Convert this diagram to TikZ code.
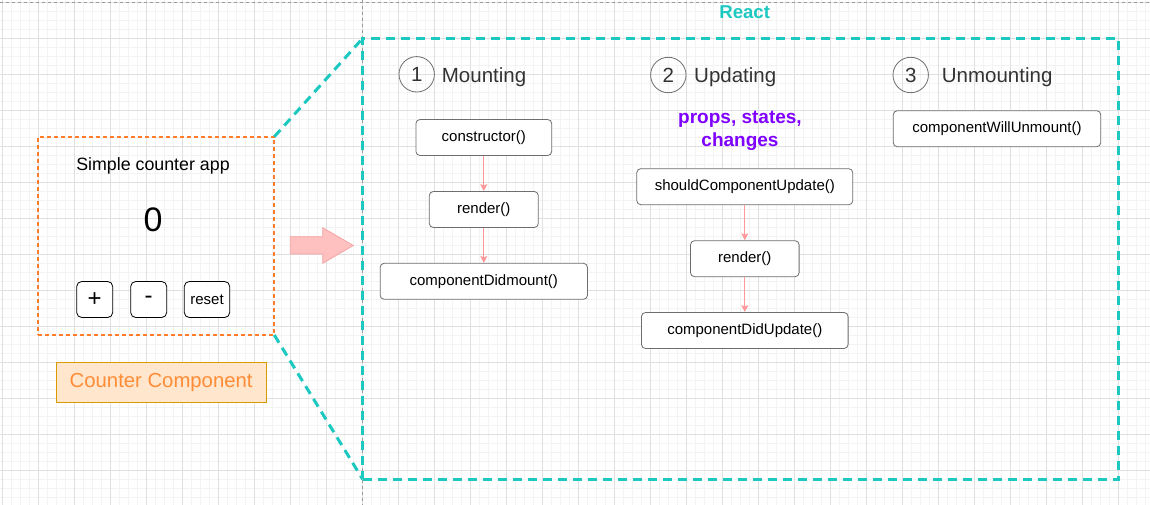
\documentclass[tikz,border=0pt]{standalone}
\usepackage{fontspec}
\setmainfont{Liberation Sans}
\usetikzlibrary{arrows.meta}
\definecolor{tealc}{RGB}{28,200,192}
\definecolor{orangec}{RGB}{255,125,40}
\definecolor{ccfill}{RGB}{255,230,204}
\definecolor{ccdraw}{RGB}{215,155,0}
\definecolor{cctext}{RGB}{255,140,55}
\definecolor{pinkfill}{RGB}{255,192,192}
\definecolor{pinkdraw}{RGB}{245,165,165}
\definecolor{flowc}{RGB}{255,153,153}
\definecolor{purplec}{RGB}{127,0,255}
\definecolor{headc}{RGB}{51,51,51}
\definecolor{boxc}{RGB}{110,110,110}
\definecolor{minorg}{RGB}{243,243,243}
\definecolor{majorg}{RGB}{224,224,224}
\begin{document}
\begin{tikzpicture}[x=1pt,y=-1pt,
  minorgrid/.style={draw=minorg,line width=0.6pt},
  majorgrid/.style={draw=majorg,line width=0.7pt},
  pagebreak/.style={draw=black!40,line width=0.6pt,dash pattern=on 3pt off 3pt},
  tealbox/.style={draw=tealc,line width=3pt,dash pattern=on 9pt off 6pt},
  method/.style={draw=boxc,line width=0.8pt,rounded corners=4pt,fill=white,inner sep=0pt,
    minimum height=36pt,font=\fontsize{15}{18}\selectfont},
  btn/.style={draw=black,line width=0.8pt,rounded corners=5pt,fill=white,inner sep=0pt,
    minimum height=36pt},
  numcircle/.style={circle,draw=boxc,line width=0.8pt,minimum size=35.4pt,inner sep=0pt,
    text=headc,font=\fontsize{20.5}{24}\selectfont},
  heading/.style={anchor=base west,inner sep=0pt,text=headc,font=\fontsize{20.5}{24}\selectfont},
  flow/.style={draw=flowc,line width=0.9pt,-{Stealth[length=7pt,width=7pt,inset=1.5pt]}}
]
\useasboundingbox (0,0) rectangle (1150,505);
\fill[white] (0,0) rectangle (1150,505);
% grid
\foreach \i in {0,...,127} \draw[minorgrid] ({2.7+9*\i},0) -- ++(0,505);
\foreach \i in {0,...,56} \draw[minorgrid] (0,{2.3+9*\i}) -- ++(1150,0);
\foreach \i in {0,...,31} \draw[majorgrid] ({2.7+36*\i},0) -- ++(0,505);
\foreach \i in {0,...,14} \draw[majorgrid] (0,{2.3+36*\i}) -- ++(1150,0);
% page break lines
\draw[pagebreak] (362.7,0) -- (362.7,505);
\draw[pagebreak] (0,2.3) -- (1150,2.3);

% React container
\node[tealbox,minimum width=755.6pt,minimum height=441pt,inner sep=0pt,outer sep=0pt] (react) at (740.5,258.8) {};
\node[anchor=base,inner sep=0pt,text=tealc,font=\bfseries\fontsize{18.6}{22}\selectfont] (reactlbl) at (744.7,18.3) {React};

% Counter app box
\node[draw=orangec,line width=2pt,dash pattern=on 4pt off 3pt,minimum width=236pt,minimum height=198.3pt,inner sep=0pt,outer sep=0pt] (app) at (156.3,235.85) {};
\draw[tealbox] (app.north east) -- (react.north west);
\draw[tealbox] (app.south east) -- (react.south west);
\node[anchor=base,inner sep=0pt,font=\fontsize{17.8}{21}\selectfont] (apptitle) at (153,171) {Simple counter app};
\node[anchor=base,inner sep=0pt,font=\fontsize{34}{40}\selectfont] (count) at (153,231.7) {0};
\node[btn,minimum width=36pt,font=\fontsize{24}{28}\selectfont] (plus) at (94.7,299.5) {+};
\node[btn,minimum width=36pt,font=\fontsize{24}{28}\selectfont] (minus) at (148.7,299.5) {-};
\node[btn,minimum width=45.4pt,font=\fontsize{15}{18}\selectfont] (reset) at (207,299.5) {reset};

\node[draw=ccdraw,fill=ccfill,line width=0.8pt,minimum width=209.7pt,minimum height=40.4pt,inner sep=0pt,
  text=cctext,font=\fontsize{20.3}{24}\selectfont] (cc) at (161.15,382.5) {Counter Component};

% pink block arrow
\draw[fill=pinkfill,draw=pinkdraw,line width=0.8pt,line join=miter]
  (290.3,236.7) -- (322.7,236.7) -- (322.7,227.7) -- (353.3,245.5) -- (322.7,263.3) -- (322.7,254) -- (290.3,254) -- cycle;

% Mounting
\node[numcircle] (n1) at (416.7,74.3) {1};
\node[heading] (h1) at (441.7,82.5) {Mounting};
\node[method,minimum width=135.7pt] (ctor) at (483.8,137.5) {constructor()};
\node[method,minimum width=109pt] (rend1) at (483.8,209.5) {render()};
\node[method,minimum width=207.3pt] (cdm) at (483.8,281.3) {componentDidmount()};
\draw[flow] (ctor.south) -- (rend1.north);
\draw[flow] (rend1.south) -- (cdm.north);

% Updating
\node[numcircle] (n2) at (668.3,75) {2};
\node[heading] (h2) at (694,82.5) {Updating};
\node[anchor=base,inner sep=0pt,text=purplec,font=\bfseries\fontsize{19}{22.7}\selectfont] (pl1) at (740,124) {props, states,};
\node[anchor=base,inner sep=0pt,text=purplec,font=\bfseries\fontsize{19}{22.7}\selectfont] (pl2) at (740,146.7) {changes};
\node[method,minimum width=216pt] (scu) at (744.8,186.7) {shouldComponentUpdate()};
\node[method,minimum width=108.6pt] (rend2) at (744.8,258.7) {render()};
\node[method,minimum width=206.6pt] (cdu) at (744.8,330.5) {componentDidUpdate()};
\draw[flow] (scu.south) -- (rend2.north);
\draw[flow] (rend2.south) -- (cdu.north);

% Unmounting
\node[numcircle] (n3) at (910.7,75) {3};
\node[heading] (h3) at (941.7,82.5) {Unmounting};
\node[method,minimum width=207.4pt] (cwu) at (997,128.7) {componentWillUnmount()};
\end{tikzpicture}
\end{document}
